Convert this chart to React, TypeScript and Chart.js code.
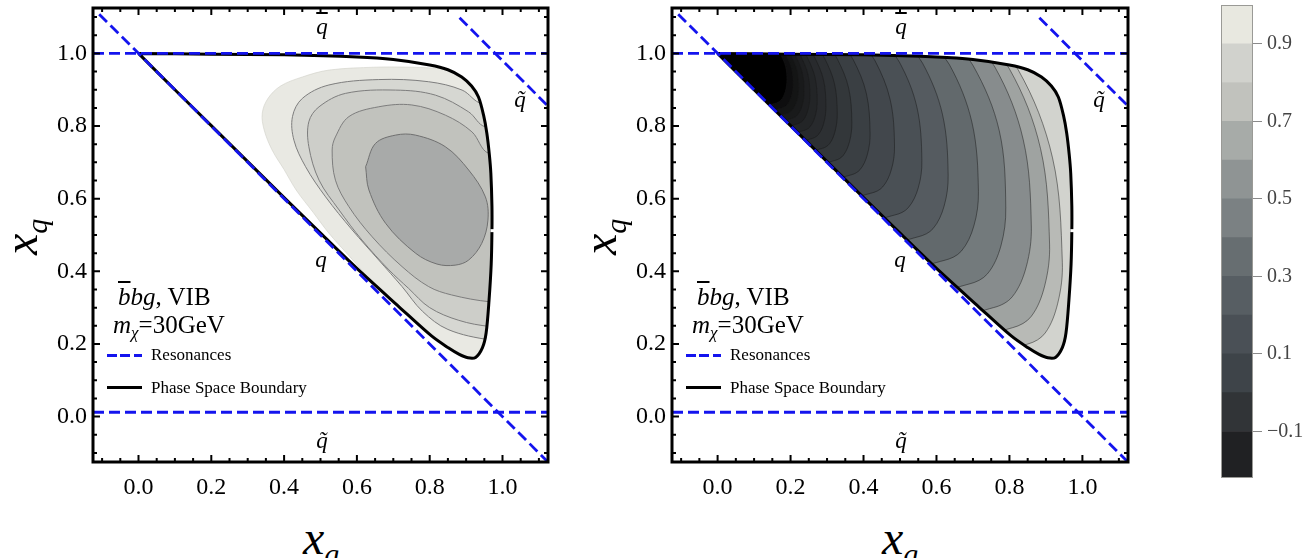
import React, { useEffect, useRef } from 'react';
import { Chart, registerables } from 'chart.js';

type P = [number, number];

const SERIF = "'Liberation Serif', 'Times New Roman', Times, serif";

// ---------- axes ----------
const AXIS_MIN = -0.125;
const AXIS_MAX = 1.125;
const MAJOR_TICKS = [0, 0.2, 0.4, 0.6, 0.8, 1.0];
const MINOR_TICKS = [-0.1, -0.05, 0, 0.05, 0.1, 0.15, 0.2, 0.25, 0.3, 0.35, 0.4, 0.45, 0.5, 0.55, 0.6, 0.65, 0.7, 0.75, 0.8, 0.85, 0.9, 0.95, 1.0, 1.05, 1.1];

// ---------- phase space boundary (x_g, x_q) ----------
const BOUNDARY: P[] = [
  [0, 1], [0.2, 0.998], [0.4, 0.996], [0.6, 0.99], [0.7, 0.983], [0.8, 0.968], [0.85, 0.955],
  [0.888, 0.935], [0.915, 0.91], [0.934, 0.88], [0.948, 0.83], [0.957, 0.78], [0.964, 0.72],
  [0.968, 0.67], [0.971, 0.58], [0.971, 0.51], [0.969, 0.42], [0.963, 0.32], [0.955, 0.23],
  [0.945, 0.19], [0.926, 0.163], [0.905, 0.162], [0.88, 0.172], [0.85, 0.19], [0.805, 0.222],
  [0.715, 0.303], [0.6, 0.408], [0.5, 0.505], [0.4, 0.603], [0.3, 0.702], [0.2, 0.801], [0.1, 0.9], [0, 1],
];
// small break in the boundary curve on the right edge
const BOUNDARY_BREAK: P[] = [[0.967, 0.512], [0.988, 0.512]];

// ---------- resonance lines ----------
const RES_TOP: P[] = [[-0.125, 1], [1.125, 1]];
const RES_BOTTOM: P[] = [[-0.125, 0.012], [1.125, 0.012]];
const RES_DIAG: P[] = [[-0.108, 1.108], [1.125, -0.125]];
const RES_DIAG_UPPER: P[] = [[0.882, 1.098], [1.125, 0.855]];

// ---------- left panel contours (outer -> inner) ----------
const LEFT_C1: P[] = [[1.1, 0.95], [0.85, 0.958], [0.75, 0.962], [0.65, 0.962], [0.523, 0.954], [0.45, 0.935], [0.39, 0.91], [0.355, 0.875], [0.34, 0.835], [0.345, 0.79], [0.367, 0.734], [0.4, 0.68], [0.433, 0.624], [0.48, 0.562], [0.523, 0.505], [0.57, 0.452], [0.614, 0.403], [0.652, 0.357], [0.69, 0.315], [0.73, 0.262], [0.8, 0.1], [1.1, 0.1]];
const LEFT_C2: P[] = [[1.1, 0.86], [0.943, 0.862], [0.889, 0.899], [0.797, 0.922], [0.66, 0.928], [0.523, 0.913], [0.45, 0.876], [0.423, 0.826], [0.427, 0.761], [0.459, 0.688], [0.514, 0.605], [0.587, 0.514], [0.66, 0.431], [0.724, 0.358], [0.78, 0.29], [0.85, 0.24], [0.966, 0.211], [1.1, 0.2]];
const LEFT_C3: P[] = [[1.1, 0.8], [0.953, 0.798], [0.907, 0.839], [0.816, 0.885], [0.706, 0.899], [0.569, 0.89], [0.496, 0.853], [0.468, 0.812], [0.468, 0.743], [0.496, 0.651], [0.551, 0.569], [0.614, 0.486], [0.688, 0.404], [0.742, 0.353], [0.8, 0.3], [0.88, 0.265], [0.966, 0.248], [1.1, 0.24]];
const LEFT_C4: P[] = [[1.1, 0.72], [0.962, 0.725], [0.916, 0.784], [0.843, 0.83], [0.751, 0.858], [0.66, 0.853], [0.578, 0.826], [0.541, 0.77], [0.532, 0.734], [0.541, 0.651], [0.578, 0.578], [0.642, 0.495], [0.724, 0.413], [0.797, 0.358], [0.86, 0.335], [0.966, 0.316], [1.1, 0.31]];
const LEFT_C5: P[] = [[0.624, 0.688], [0.651, 0.752], [0.706, 0.775], [0.761, 0.775], [0.843, 0.743], [0.907, 0.679], [0.953, 0.605], [0.96, 0.541], [0.943, 0.477], [0.907, 0.431], [0.87, 0.417], [0.82, 0.42], [0.761, 0.45], [0.679, 0.532], [0.633, 0.624], [0.624, 0.688]];
const LEFT_CONTOURS: P[][] = [LEFT_C1, LEFT_C2, LEFT_C3, LEFT_C4, LEFT_C5];
const LEFT_FILLS = ['#e9e9e3', '#d6d7d2', '#cdcec9', '#c1c2bd', '#a8aaa9'];
const LEFT_LINES = ['#d0d0c8', '#7d7d7d', '#7d7d7d', '#7d7d7d', '#707070'];

// ---------- right panel contours (outer -> inner) ----------
const RIGHT_CONTOURS: P[][] = [
  [[0.734, 1.04], [0.8244, 0.954], [0.9181, 0.7125], [0.945, 0.425], [0.9325, 0.3125], [0.898, 0.2302], [0.8508, 0.2], [0.77, 0.195]],
  [[0.716, 1.04], [0.7996, 0.958], [0.8853, 0.7375], [0.91, 0.475], [0.8966, 0.36], [0.8597, 0.2758], [0.8093, 0.245], [0.725, 0.24]],
  [[0.684, 1.04], [0.7604, 0.962], [0.8378, 0.7625], [0.86, 0.525], [0.8461, 0.4125], [0.808, 0.3302], [0.756, 0.3], [0.67, 0.295]],
  [[0.631, 1.04], [0.7006, 0.966], [0.772, 0.7875], [0.79, 0.575], [0.7766, 0.47], [0.7397, 0.3931], [0.6893, 0.365], [0.605, 0.36]],
  [[0.572, 1.04], [0.6352, 0.9696], [0.6972, 0.81], [0.715, 0.62], [0.7025, 0.525], [0.668, 0.4555], [0.6208, 0.43], [0.54, 0.425]],
  [[0.505, 1.04], [0.5618, 0.9732], [0.6163, 0.8325], [0.632, 0.665], [0.621, 0.58], [0.5908, 0.5178], [0.5495, 0.495], [0.475, 0.49]],
  [[0.447, 1.04], [0.4982, 0.9764], [0.5462, 0.8525], [0.56, 0.705], [0.5501, 0.63], [0.5227, 0.5751], [0.4853, 0.555], [0.415, 0.55]],
  [[0.386, 1.04], [0.4316, 0.9796], [0.4731, 0.8725], [0.485, 0.745], [0.4763, 0.68], [0.4525, 0.6324], [0.42, 0.615], [0.355, 0.61]],
  [[0.331, 1.04], [0.3718, 0.9824], [0.4077, 0.89], [0.418, 0.78], [0.4108, 0.7225], [0.391, 0.6804], [0.364, 0.665], [0.305, 0.66]],
  [[0.2915, 1.04], [0.3281, 0.9848], [0.3591, 0.905], [0.368, 0.81], [0.3617, 0.7575], [0.3444, 0.7191], [0.3206, 0.705], [0.265, 0.7]],
  [[0.26, 1.04], [0.2932, 0.9868], [0.3202, 0.9175], [0.328, 0.835], [0.3223, 0.7865], [0.3066, 0.751], [0.2851, 0.738], [0.232, 0.733]],
  [[0.236, 1.04], [0.2664, 0.9884], [0.2902, 0.9275], [0.297, 0.855], [0.2916, 0.81], [0.2769, 0.7771], [0.2567, 0.765], [0.205, 0.76]],
  [[0.2175, 1.04], [0.2457, 0.9896], [0.2669, 0.935], [0.273, 0.87], [0.2678, 0.8285], [0.2535, 0.7981], [0.234, 0.787], [0.183, 0.782]],
  [[0.203, 1.04], [0.229, 0.9908], [0.2476, 0.9425], [0.253, 0.885], [0.2479, 0.845], [0.2342, 0.8157], [0.2153, 0.805], [0.165, 0.8]],
  [[0.19, 1.04], [0.2148, 0.9916], [0.232, 0.9475], [0.237, 0.895], [0.232, 0.8575], [0.2185, 0.8301], [0.2, 0.82], [0.15, 0.815]],
  [[0.179, 1.04], [0.2022, 0.9924], [0.2176, 0.9525], [0.222, 0.905], [0.2171, 0.8695], [0.2038, 0.8435], [0.1856, 0.834], [0.136, 0.829]],
  [[0.167, 1.04], [0.189, 0.9932], [0.203, 0.9575], [0.207, 0.915], [0.2023, 0.8815], [0.1892, 0.857], [0.1713, 0.848], [0.122, 0.843]],
  [[0.154, 1.04], [0.1744, 0.9942], [0.1865, 0.9635], [0.19, 0.927], [0.1855, 0.8945], [0.1731, 0.8707], [0.1562, 0.862], [0.108, 0.857]],
];
const RIGHT_FILLS = ['#b8bab6', '#9fa3a1', '#878c8d', '#737a7c', '#62696c', '#555b60', '#4a5055', '#42474c', '#3a3f43', '#33373a', '#2d3033', '#282a2d', '#232527', '#1e1f21', '#191a1b', '#141515', '#0e0e0f', '#000000'];
const RIGHT_BASE = '#d2d3ce';
const OUTSIDE_CLOSE: P = [-0.6, 1.25];
const OUTSIDE_TOP = 1.3;

// ---------- colour bar ----------
const BAR_EDGES = [-0.22, -0.1, 0, 0.1, 0.2, 0.3, 0.4, 0.5, 0.6, 0.7, 0.8, 0.9, 1.0];
const BAR_COLORS = ['#202123', '#313437', '#3e4449', '#4a5056', '#575e63', '#676e71', '#7b8183', '#8f9494', '#a7aba8', '#c1c2bd', '#d1d2cd', '#e8e8e0'];
const BAR_TICKS = [-0.1, 0.1, 0.3, 0.5, 0.7, 0.9];

// ---------- plugins ----------
const boundaryClip = {
  id: 'boundaryClip',
  beforeDatasetDraw(chart: any, args: any) {
    const ds = chart.data.datasets[args.index];
    if (!ds || !ds.clipToBoundary) return;
    const bi = chart.data.datasets.findIndex((d: any) => d.isBoundary);
    const ctx = chart.ctx;
    ctx.save();
    if (bi < 0) return;
    const line = chart.getDatasetMeta(bi).dataset;
    if (!line) return;
    if (line.updateControlPoints) line.updateControlPoints(chart.chartArea, 'x');
    ctx.beginPath();
    line.path(ctx);
    ctx.closePath();
    ctx.clip();
  },
  afterDatasetDraw(chart: any, args: any) {
    const ds = chart.data.datasets[args.index];
    if (!ds || !ds.clipToBoundary) return;
    chart.ctx.restore();
  },
};
Chart.register(boundaryClip);
Chart.register(...registerables);

const isMajor = (v: number) => MAJOR_TICKS.some((m) => Math.abs(m - v) < 1e-9);

const frameTicks = {
  id: 'frameTicks',
  afterDatasetsDraw(chart: any) {
    const { ctx, chartArea: a } = chart;
    const xs = chart.scales.x;
    const ys = chart.scales.y;
    ctx.save();
    ctx.strokeStyle = '#000';
    ctx.lineWidth = 2;
    ctx.beginPath();
    MINOR_TICKS.forEach((v) => {
      const len = isMajor(v) ? 7 : 4;
      const px = xs.getPixelForValue(v);
      ctx.moveTo(px, a.bottom);
      ctx.lineTo(px, a.bottom - len);
      ctx.moveTo(px, a.top);
      ctx.lineTo(px, a.top + len);
      const py = ys.getPixelForValue(v);
      ctx.moveTo(a.left, py);
      ctx.lineTo(a.left + len, py);
      ctx.moveTo(a.right, py);
      ctx.lineTo(a.right - len, py);
    });
    ctx.stroke();
    ctx.lineWidth = 3;
    ctx.strokeRect(a.left, a.top, a.right - a.left, a.bottom - a.top);
    ctx.restore();
  },
};

const barFrame = {
  id: 'barFrame',
  afterDatasetsDraw(chart: any) {
    const { ctx, chartArea: a } = chart;
    ctx.save();
    ctx.strokeStyle = '#9a9a96';
    ctx.lineWidth = 1;
    ctx.strokeRect(a.left + 0.5, a.top + 0.5, a.right - a.left - 1, a.bottom - a.top - 1);
    ctx.restore();
  },
};

const noPad = (s: any) => { s.paddingTop = 0; s.paddingBottom = 0; s.paddingLeft = 0; s.paddingRight = 0; };

const pts = (arr: P[]) => arr.map(([x, y]) => ({ x, y }));

function resonanceSets() {
  return [RES_TOP, RES_BOTTOM, RES_DIAG, RES_DIAG_UPPER].map((r, i) => ({
    data: pts(r), showLine: true, fill: false, borderColor: '#1414ee', borderWidth: 2.8,
    borderDash: [11, 5], tension: 0, pointRadius: 0, order: 1 + i * 0.01,
  }));
}

function boundarySets() {
  return [
    {
      data: pts(BOUNDARY), showLine: true, fill: false, borderColor: '#000', borderWidth: 3,
      tension: 0.3, pointRadius: 0, isBoundary: true, order: 3,
    },
    {
      data: pts(BOUNDARY_BREAK), showLine: true, fill: false, borderColor: '#fff', borderWidth: 3,
      tension: 0, pointRadius: 0, order: 2.5,
    },
  ];
}

function leftDatasets() {
  const contours = LEFT_CONTOURS.map((c, i) => ({
    data: pts(c), showLine: true, fill: 'shape', backgroundColor: LEFT_FILLS[i],
    borderColor: LEFT_LINES[i], borderWidth: i === 0 ? 0.6 : 1, tension: 0.35, pointRadius: 0,
    clipToBoundary: true, order: 100 - i,
  }));
  return [...contours, ...boundarySets(), ...resonanceSets()];
}

function rightDatasets() {
  const base = {
    data: pts(BOUNDARY), showLine: true, fill: 'shape', backgroundColor: RIGHT_BASE, borderWidth: 0,
    tension: 0.3, pointRadius: 0, order: 200,
  };
  const contours = RIGHT_CONTOURS.map((c, i) => ({
    data: pts([...c, OUTSIDE_CLOSE, [c[0][0], OUTSIDE_TOP] as P]), showLine: true, fill: 'shape',
    backgroundColor: RIGHT_FILLS[i], borderColor: 'rgba(25,25,25,0.65)', borderWidth: 0.75,
    tension: 0.35, pointRadius: 0, clipToBoundary: true, order: 100 - i,
  }));
  return [base, ...contours, ...boundarySets(), ...resonanceSets()];
}

const tickFont = { family: SERIF, size: 24 };

function plotConfig(datasets: any[], yWidth: number) {
  return {
    type: 'scatter',
    data: { datasets },
    options: {
      responsive: false, animation: false, events: [], devicePixelRatio: 1,
      layout: { padding: { left: 0, right: 12, top: 8, bottom: 0 } },
      elements: { point: { radius: 0 }, line: { capBezierPoints: false } },
      plugins: { legend: { display: false }, tooltip: { enabled: false } },
      scales: {
        x: {
          type: 'linear', min: AXIS_MIN, max: AXIS_MAX,
          afterBuildTicks: (s: any) => { s.ticks = MAJOR_TICKS.map((v) => ({ value: v })); },
          afterFit: (s: any) => { noPad(s); s.height = 38; },
          grid: { display: false, drawTicks: false }, border: { display: false },
          ticks: { padding: 11, font: tickFont, color: '#000', maxRotation: 0, autoSkip: false, callback: (v: any) => Number(v).toFixed(1) },
        },
        y: {
          type: 'linear', min: AXIS_MIN, max: AXIS_MAX,
          afterBuildTicks: (s: any) => { s.ticks = MAJOR_TICKS.map((v) => ({ value: v })); },
          afterFit: (s: any) => { noPad(s); s.width = yWidth; },
          grid: { display: false, drawTicks: false }, border: { display: false },
          ticks: { padding: 6, font: tickFont, color: '#000', autoSkip: false, callback: (v: any) => Number(v).toFixed(1) },
        },
      },
    },
    plugins: [frameTicks],
  };
}

function barConfig() {
  return {
    type: 'bar',
    data: {
      labels: [''],
      datasets: BAR_COLORS.map((c, i) => ({
        data: [[BAR_EDGES[i], BAR_EDGES[i + 1]]], backgroundColor: c, borderWidth: 0,
        barPercentage: 1, categoryPercentage: 1, grouped: false,
      })),
    },
    options: {
      responsive: false, animation: false, events: [], devicePixelRatio: 1,
      layout: { padding: { left: 16, right: 0, top: 5, bottom: 12 } },
      plugins: { legend: { display: false }, tooltip: { enabled: false } },
      scales: {
        x: { display: false },
        y: {
          position: 'right', min: -0.22, max: 1.0,
          afterBuildTicks: (s: any) => { s.ticks = BAR_TICKS.map((v) => ({ value: v })); },
          afterFit: (s: any) => { noPad(s); s.width = 62; },
          grid: { drawOnChartArea: false, drawTicks: true, tickLength: 9, color: '#8a8a8a', lineWidth: 1 },
          border: { display: false },
          ticks: {
            padding: 5, font: { family: SERIF, size: 20 }, color: '#444',
            callback: (v: any) => (v < 0 ? '\u2212' + Math.abs(v).toFixed(1) : Number(v).toFixed(1)),
          },
        },
      },
    },
    plugins: [barFrame],
  };
}

function Txt({ x, y, size, italic, center, children }: any) {
  return (
    <div style={{
      position: 'absolute', left: x, top: y - 0.8375 * size, fontSize: size, lineHeight: `${size}px`,
      fontFamily: SERIF, fontStyle: italic ? 'italic' : 'normal', whiteSpace: 'nowrap',
      transform: center ? 'translateX(-50%)' : undefined, color: '#000',
    }}>{children}</div>
  );
}

const Bar = ({ children }: any) => <span style={{ textDecoration: 'overline' }}>{children}</span>;

function PanelTexts({ dx }: { dx: number }) {
  return (
    <>
      <Txt x={322 + dx} y={34} size={23} italic center><Bar>q</Bar></Txt>
      <Txt x={322 + dx} y={448} size={23} italic center>{'q\u0303'}</Txt>
      <Txt x={321 + dx} y={267} size={23} italic center>q</Txt>
      <Txt x={520 + dx} y={107} size={23} italic center>{'q\u0303'}</Txt>
      <Txt x={118 + dx} y={305} size={25}><i><Bar>b</Bar>bg</i>, VIB</Txt>
      <Txt x={113 + dx} y={333} size={25}><i>m</i><sub style={{ fontSize: 17, fontStyle: 'italic', verticalAlign: '-5px', lineHeight: 0 }}>χ</sub>=30GeV</Txt>
      <div style={{ position: 'absolute', left: 107 + dx, top: 354, width: 35, height: 3, background: 'repeating-linear-gradient(90deg, #1414ee 0 10px, transparent 10px 13.5px)' }} />
      <Txt x={151 + dx} y={360} size={17}>Resonances</Txt>
      <div style={{ position: 'absolute', left: 107 + dx, top: 385.5, width: 35, height: 3, background: '#000' }} />
      <Txt x={151 + dx} y={393} size={17}>Phase Space Boundary</Txt>
      <Txt x={303 + dx} y={554} size={48} italic>x<sub style={{ fontSize: 30, verticalAlign: '-10px', lineHeight: 0 }}>g</sub></Txt>
      <div style={{
        position: 'absolute', left: -3 + dx, top: 255, fontSize: 48, lineHeight: '48px', fontFamily: SERIF,
        fontStyle: 'italic', whiteSpace: 'nowrap', transform: 'rotate(-90deg)', transformOrigin: '0 0',
      }}>x<sub style={{ fontSize: 30, verticalAlign: '-10px', lineHeight: 0 }}>q</sub></div>
    </>
  );
}

export default function App() {
  const leftRef = useRef<HTMLCanvasElement>(null);
  const rightRef = useRef<HTMLCanvasElement>(null);
  const barRef = useRef<HTMLCanvasElement>(null);

  useEffect(() => {
    const charts: Chart[] = [];
    if (leftRef.current) charts.push(new Chart(leftRef.current, plotConfig(leftDatasets(), 93) as any));
    if (rightRef.current) charts.push(new Chart(rightRef.current, plotConfig(rightDatasets(), 92) as any));
    if (barRef.current) charts.push(new Chart(barRef.current, barConfig() as any));
    return () => charts.forEach((c) => c.destroy());
  }, []);

  return (
    <div style={{ position: 'absolute', left: 0, top: 0, width: 1315, height: 558, background: '#fff', overflow: 'hidden' }}>
      <canvas ref={leftRef} width={560} height={500} style={{ position: 'absolute', left: 0, top: 0, width: 560, height: 500 }} />
      <canvas ref={rightRef} width={560} height={500} style={{ position: 'absolute', left: 580, top: 0, width: 560, height: 500 }} />
      <canvas ref={barRef} width={110} height={490} style={{ position: 'absolute', left: 1205, top: 0, width: 110, height: 490 }} />
      <PanelTexts dx={0} />
      <PanelTexts dx={579} />
    </div>
  );
}
